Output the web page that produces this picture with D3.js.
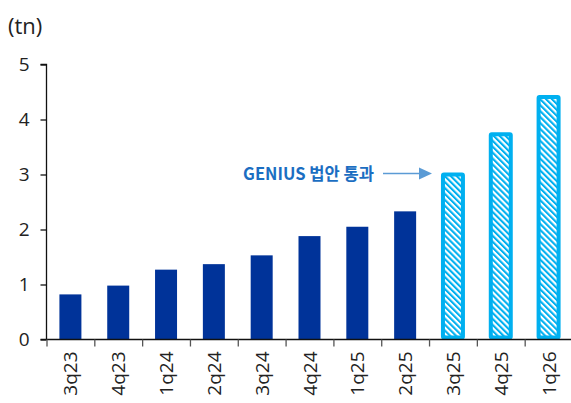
<!DOCTYPE html>
<html>
<head>
<meta charset="utf-8">
<script src="https://cdn.jsdelivr.net/npm/d3@7"></script>
<style>
  body { margin: 0; background: #fff; }
  svg { display: block; font-family: "Open Sans", "Noto Sans", sans-serif; }
</style>
</head>
<body>
<div id="chart"></div>
<script>
const quarters = ['3q23', '4q23', '1q24', '2q24', '3q24', '4q24', '1q25', '2q25', '3q25', '4q25', '1q26'];
const values = [0.82, 0.98, 1.27, 1.37, 1.53, 1.88, 2.05, 2.33, 3.0, 3.73, 4.41];
const projected = [false, false, false, false, false, false, false, false, true, true, true];
const yTicks = [0, 1, 2, 3, 4, 5];
const unitLabel = '(tn)';
const noteText = 'GENIUS 법안 통과';

const data = quarters.map((q, i) => ({ q, v: values[i], proj: projected[i] }));

const width = 571, height = 403;

const x = d3.scaleBand()
	.domain(quarters)
	.range([46.5, 572.5])
	.paddingInner(0.54)
	.paddingOuter(0.27);

const y = d3.scaleLinear()
	.domain([0, 5])
	.range([339.5, 64.5]);

const svg = d3.select('#chart').append('svg')
	.attr('width', width)
	.attr('height', height);

// hatch pattern for the forecast bars
const defs = svg.append('defs');
defs.append('pattern')
	.attr('id', 'hatch')
	.attr('patternUnits', 'userSpaceOnUse')
	.attr('width', 4.2)
	.attr('height', 4.2)
	.attr('patternTransform', 'rotate(-45)')
	.call((p) => {
		p.append('rect').attr('width', 4.2).attr('height', 4.2).attr('fill', '#fff');
		p.append('rect').attr('width', 2.1).attr('height', 4.2).attr('fill', '#00b0f0');
	});

// bars
const barW = x.bandwidth();
svg.selectAll('.bar')
	.data(data.filter((d) => !d.proj))
	.enter()
	.append('rect')
	.attr('class', 'bar')
	.attr('x', (d) => x(d.q))
	.attr('y', (d) => y(d.v))
	.attr('width', barW)
	.attr('height', (d) => y(0) - y(d.v))
	.attr('fill', '#003399');

svg.selectAll('.proj')
	.data(data.filter((d) => d.proj))
	.enter()
	.append('rect')
	.attr('class', 'proj')
	.attr('x', (d) => x(d.q) + 1)
	.attr('y', (d) => y(d.v))
	.attr('width', barW - 2)
	.attr('height', (d) => y(0) - y(d.v) - 2)
	.attr('fill', 'url(#hatch)')
	.attr('stroke', '#00b0f0')
	.attr('stroke-width', 4)
	.attr('rx', 1);

// y axis
const yAxis = svg.append('g')
	.attr('transform', 'translate(46.5,0)')
	.call(d3.axisLeft(y).tickValues(yTicks).tickSize(6).tickPadding(11).tickFormat(d3.format('d')));
yAxis.select('.domain').attr('d', `M-6,${y(5)}H0V${y(0)}`);
yAxis.selectAll('text').attr('font-size', 19).attr('fill', '#222').attr('font-family', '"Open Sans", sans-serif');
yAxis.selectAll('line, path').attr('stroke', '#111').attr('stroke-width', 1.3);

// x axis with ticks at band edges
const xAxis = svg.append('g').attr('transform', `translate(0,${y(0)})`);
xAxis.append('line')
	.attr('x1', 40.5).attr('x2', width)
	.attr('stroke', '#111').attr('stroke-width', 1.3);
const step = x.step();
xAxis.selectAll('.edge')
	.data(quarters)
	.enter()
	.append('line')
	.attr('x1', (d) => x(d) - x.paddingOuter() * step + 0.5)
	.attr('x2', (d) => x(d) - x.paddingOuter() * step + 0.5)
	.attr('y1', 0).attr('y2', 7)
	.attr('stroke', '#555').attr('stroke-width', 1.3);
xAxis.selectAll('.lbl')
	.data(quarters)
	.enter()
	.append('text')
	.attr('transform', (d) => `translate(${x(d) + barW / 2 + 7},12) rotate(-90)`)
	.attr('text-anchor', 'end')
	.attr('font-size', 19)
	.attr('fill', '#222')
	.text((d) => d);

// unit label
svg.append('text')
	.attr('x', 8).attr('y', 34)
	.attr('font-size', 22)
	.attr('fill', '#222')
	.text(unitLabel);

// annotation
svg.append('text')
	.attr('x', 243).attr('y', 180)
	.attr('font-size', 17)
	.attr('font-weight', 'bold')
	.attr('font-family', '"Noto Sans CJK KR", sans-serif')
	.attr('fill', '#1b6ec2')
	.attr('textLength', 131)
	.attr('lengthAdjust', 'spacingAndGlyphs')
	.text(noteText);

const arrowY = y(3) - 1;
svg.append('line')
	.attr('x1', 383).attr('x2', 420)
	.attr('y1', arrowY).attr('y2', arrowY)
	.attr('stroke', '#5b9bd5').attr('stroke-width', 1.5);
svg.append('path')
	.attr('d', `M419,${arrowY - 6}L432,${arrowY}L419,${arrowY + 6}Z`)
	.attr('fill', '#5b9bd5');
</script>
</body>
</html>
